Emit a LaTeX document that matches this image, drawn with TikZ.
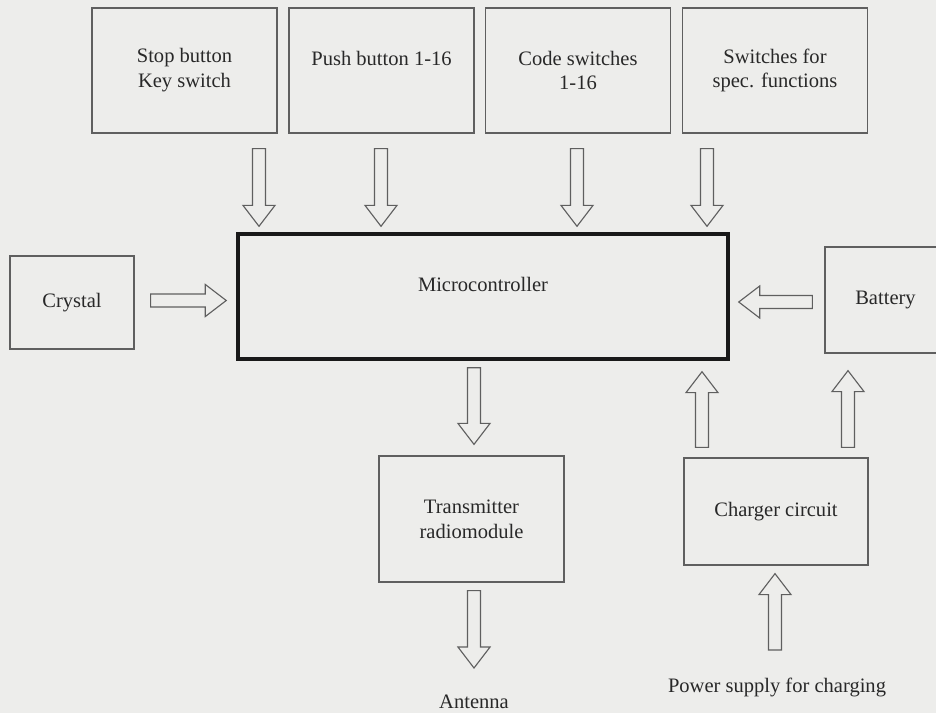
\documentclass[tikz,border=0pt]{standalone}
\usepackage{fontspec}
\setmainfont{Liberation Serif}
\usepackage{tikz}
\usetikzlibrary{calc}
\usepackage{color}
\definecolor{scanpaper}{RGB}{237,237,235}
\definecolor{scanline}{RGB}{95,95,95}
\definecolor{scantext}{RGB}{40,40,40}
\definecolor{scandark}{RGB}{25,25,25}

% half shaft, half head, head length of the hollow arrows
\newcommand{\shafthw}{4.6pt}
\newcommand{\headhw}{11.4pt}
\newcommand{\headlen}{14.9pt}

\tikzset{
  block/.style={draw=scanline, line width=0.9pt, align=center, text=scantext,
    font=\fontsize{14.6}{17.7}\selectfont},
  toprow/.style={block, minimum width=4.625cm, minimum height=3.125cm},
  plainlabel/.style={text=scantext, inner sep=1pt, font=\fontsize{14.6}{17.7}\selectfont},
  hollow/.style={draw=scanline, line width=0.8pt, line join=miter,
    to path={let \p1=(\tikztostart), \p2=(\tikztotarget),
      \n1={veclen(\x2-\x1,\y2-\y1)}, \n2={(\x2-\x1)/\n1}, \n3={(\y2-\y1)/\n1} in
      ({\x1-(\n3)*\shafthw},{\y1+(\n2)*\shafthw})
      -- ({\x1+(\n2)*(\n1-\headlen)-(\n3)*\shafthw},{\y1+(\n3)*(\n1-\headlen)+(\n2)*\shafthw})
      -- ({\x1+(\n2)*(\n1-\headlen)-(\n3)*\headhw},{\y1+(\n3)*(\n1-\headlen)+(\n2)*\headhw})
      -- (\p2)
      -- ({\x1+(\n2)*(\n1-\headlen)+(\n3)*\headhw},{\y1+(\n3)*(\n1-\headlen)-(\n2)*\headhw})
      -- ({\x1+(\n2)*(\n1-\headlen)+(\n3)*\shafthw},{\y1+(\n3)*(\n1-\headlen)-(\n2)*\shafthw})
      -- ({\x1+(\n3)*\shafthw},{\y1-(\n2)*\shafthw})
      -- cycle}}
}

\begin{document}
\begin{tikzpicture}[x=0.025cm, y=-0.025cm]
  % Page
  \useasboundingbox (0,0) rectangle (936,713);
  \clip (0,0) rectangle (936,713);
  \fill[scanpaper] (0,0) rectangle (936,713);

  % Inputs on top
  \node[toprow] (stop) at (184.5,70.5) {Stop button\\Key switch};
  \node[toprow] (push) at (381.5,70.5) {Push button 1-16\\ \mbox{}};
  \node[toprow] (code) at (578,70.5) {Code switches\\1-16};
  \node[toprow] (spec) at (775,70.5) {Switches for\\spec. functions};

  % Middle row
  \node[block, draw=scandark, line width=2.4pt, minimum width=12.25cm,
    minimum height=3.125cm] (mcu) at (483,296.5) {Microcontroller\\ \mbox{}};
  \node[block, minimum width=3.1cm, minimum height=2.325cm] (crystal) at (72,302.5) {Crystal};
  \node[block, minimum width=3.025cm, minimum height=2.65cm] (battery) at (885.5,300) {Battery};

  % Bottom row
  \node[block, minimum width=4.625cm, minimum height=3.15cm] (tx) at (471.5,519) {Transmitter\\radiomodule};
  \node[block, minimum width=4.6cm, minimum height=2.675cm] (charger) at (776,511.5) {Charger circuit};
  \node[plainlabel, anchor=base] (antenna) at (474,708) {Antenna};
  \node[plainlabel, anchor=base] (power) at (777,692) {Power supply for charging};

  % Arrow lanes
  \coordinate (l1) at (259,0);
  \coordinate (l2) at (381,0);
  \coordinate (l3) at (577,0);
  \coordinate (l4) at (707,0);
  \coordinate (l5) at (474,0);
  \coordinate (l6) at (702,0);
  \coordinate (l7) at (848,0);
  \coordinate (l8) at (775,0);

  % Into the microcontroller
  \draw[hollow] ($(stop.south -| l1)+(0,15)$) to ($(mcu.north -| l1)+(0,-6)$);
  \draw[hollow] ($(push.south -| l2)+(0,15)$) to ($(mcu.north -| l2)+(0,-6)$);
  \draw[hollow] ($(code.south -| l3)+(0,15)$) to ($(mcu.north -| l3)+(0,-6)$);
  \draw[hollow] ($(spec.south -| l4)+(0,15)$) to ($(mcu.north -| l4)+(0,-6)$);
  \draw[hollow] ($(crystal.east)+(16,-2)$) to ($(mcu.west |- crystal.east)+(-10,-2)$);
  \draw[hollow] ($(battery.west)+(-12,2)$) to ($(mcu.east |- battery.west)+(9,2)$);

  % Out of the microcontroller
  \draw[hollow] ($(mcu.south -| l5)+(0,7)$) to ($(tx.north -| l5)+(0,-11)$);
  \draw[hollow] ($(tx.south -| l5)+(0,8)$) to ($(antenna.base -| l5)+(0,-40)$);

  % Charging
  \draw[hollow] ($(charger.north -| l6)+(0,-10)$) to ($(mcu.south -| l6)+(0,11)$);
  \draw[hollow] ($(charger.north -| l7)+(0,-10)$) to ($(battery.south -| l7)+(0,17)$);
  \draw[hollow] ($(power.base -| l8)+(0,-42)$) to ($(charger.south -| l8)+(0,8)$);
\end{tikzpicture}
\end{document}
